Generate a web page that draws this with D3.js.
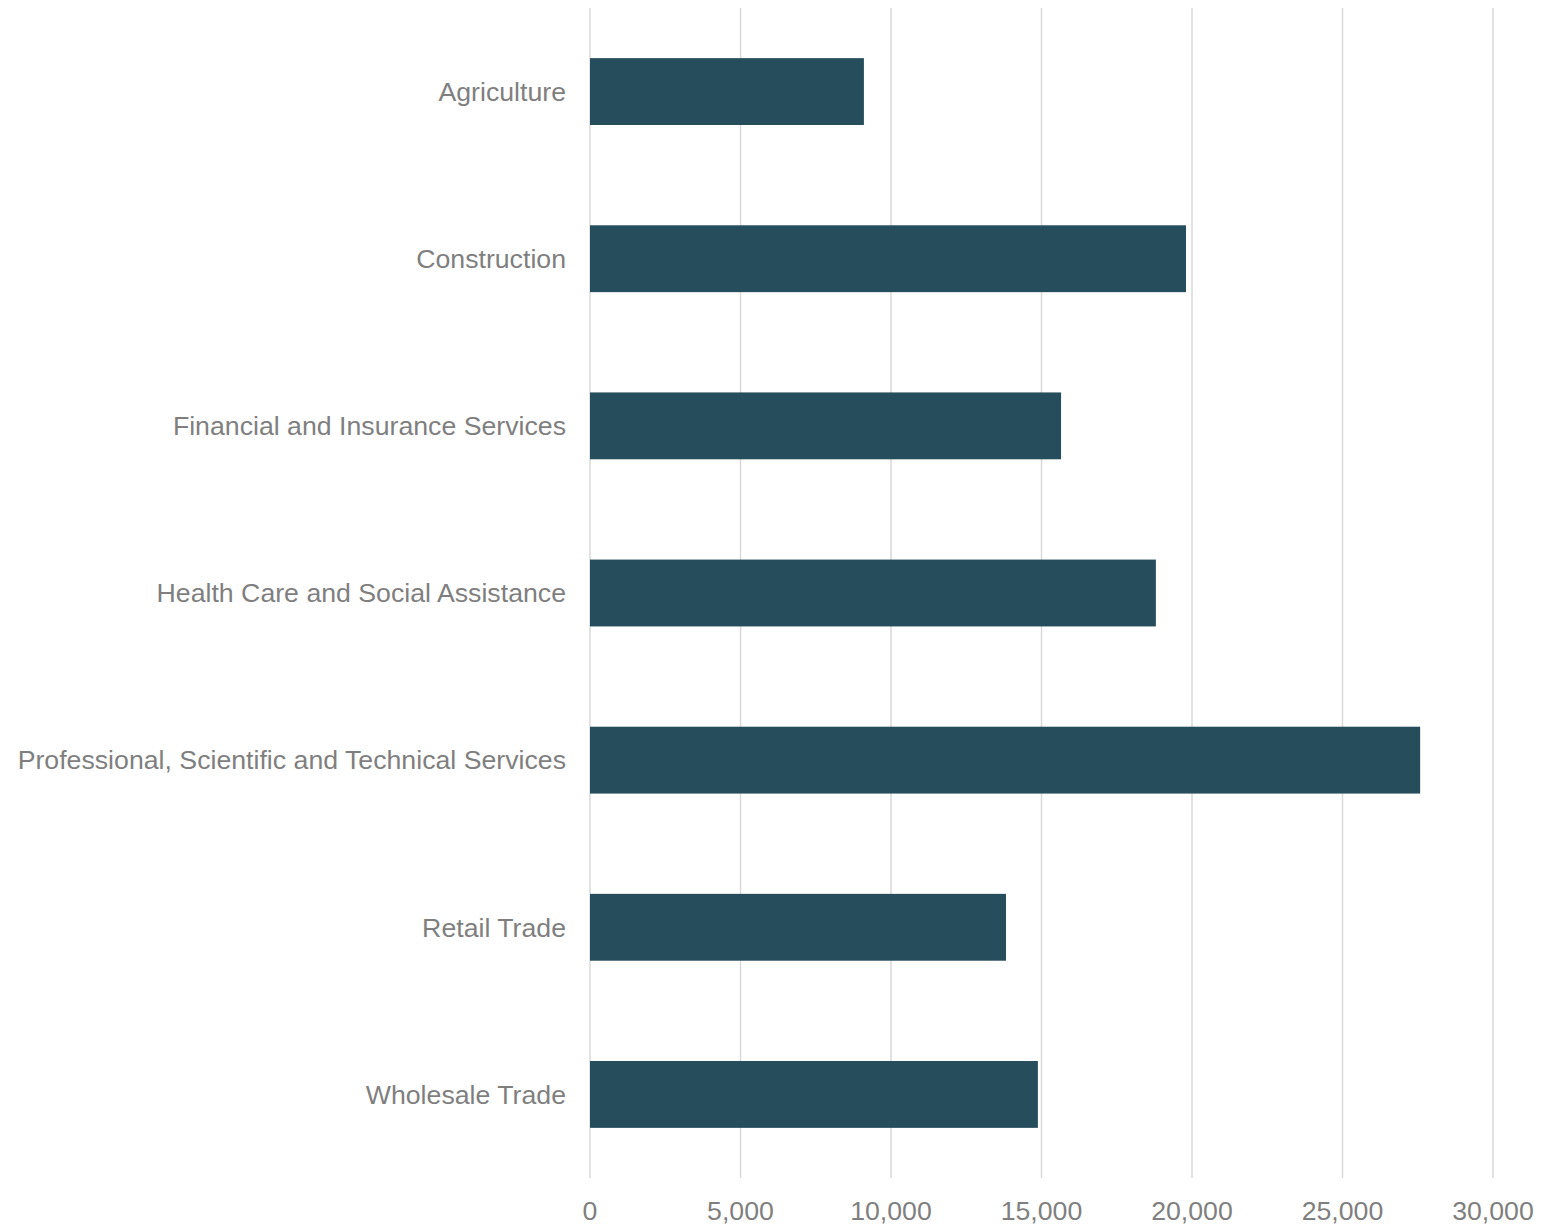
<!DOCTYPE html>
<html>
<head>
<meta charset="utf-8">
<script src="https://cdn.jsdelivr.net/npm/d3@7"></script>
<style>
  body { margin: 0; background: #fff; }
  text { font-family: "Liberation Sans", Arial, sans-serif; }
</style>
</head>
<body>
<div id="chart"></div>
<script>
const width = 1562, height = 1225;

// data
const industries = [
  "Agriculture",
  "Construction",
  "Financial and Insurance Services",
  "Health Care and Social Assistance",
  "Professional, Scientific and Technical Services",
  "Retail Trade",
  "Wholesale Trade"
];
const values = [9100, 19800, 15650, 18800, 27580, 13820, 14880];
const ticks = [0, 5000, 10000, 15000, 20000, 25000, 30000];

const x = d3.scaleLinear().domain([0, 30000]).range([590, 1493]);
const y = d3.scaleBand().domain(industries).range([8, 1178])
  .paddingInner(0.6).paddingOuter(0.3);

const svg = d3.select("#chart").append("svg")
  .attr("width", width).attr("height", height);

// gridlines
svg.append("g").selectAll("line")
  .data(ticks)
  .join("line")
  .attr("x1", d => x(d)).attr("x2", d => x(d))
  .attr("y1", 8).attr("y2", 1178)
  .attr("stroke", "#d9d9d9")
  .attr("stroke-width", 1.5);

// bars
svg.append("g").selectAll("rect")
  .data(industries)
  .join("rect")
  .attr("x", x(0))
  .attr("y", d => y(d))
  .attr("width", (d, i) => x(values[i]) - x(0))
  .attr("height", y.bandwidth())
  .attr("fill", "#264d5c");

// category labels
svg.append("g").selectAll("text")
  .data(industries)
  .join("text")
  .attr("x", 566)
  .attr("y", d => y(d) + y.bandwidth() / 2)
  .attr("dy", "0.35em")
  .attr("text-anchor", "end")
  .attr("font-size", 26.7)
  .attr("fill", "#7f7f7f")
  .text(d => d);

// tick labels
svg.append("g").selectAll("text")
  .data(ticks)
  .join("text")
  .attr("x", d => x(d))
  .attr("y", 1220)
  .attr("text-anchor", "middle")
  .attr("font-size", 26.7)
  .attr("fill", "#7f7f7f")
  .text(d => d3.format(",")(d));
</script>
</body>
</html>
